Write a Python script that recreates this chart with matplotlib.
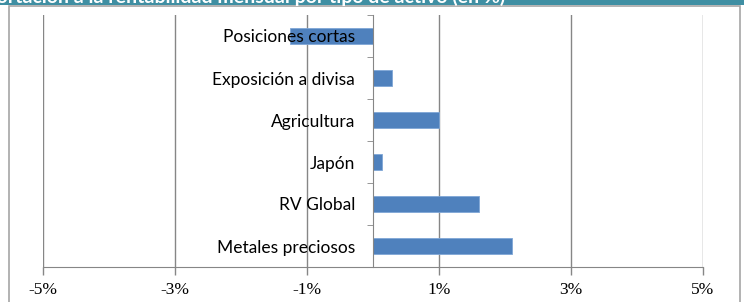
import matplotlib
matplotlib.use("Agg")
import matplotlib.pyplot as plt
from matplotlib.patches import Rectangle
from matplotlib.ticker import FixedLocator, FuncFormatter
import numpy as np

categories = ["Metales preciosos", "RV Global", "Japón", "Agricultura",
              "Exposición a divisa", "Posiciones cortas"]
values = [2.1, 1.6, 0.14, 1.0, 0.29, -1.26]
xticks = [-5, -3, -1, 1, 3, 5]
title = "Aportación a la rentabilidad mensual por tipo de activo (en %)"

W, H = 744, 302
fig = plt.figure(figsize=(W / 100, H / 100), dpi=100)

# header band and outer frame
fig.patches.append(Rectangle((0, 1 - 5 / H), 1, 5 / H, transform=fig.transFigure,
                             facecolor="#3F8FA3", edgecolor="none", zorder=0))
fig.patches.append(Rectangle((9 / W, -0.1), (740 - 9) / W, 1.1 - 6 / H,
                             transform=fig.transFigure, facecolor="none",
                             edgecolor="#A6A6A6", linewidth=1.2, zorder=0))
fig.text(505 / W, 1 - 2.5 / H, title, color="white", fontsize=14, fontweight="bold",
         ha="right", va="baseline", family="Lato")

ax = fig.add_axes([43 / W, (H - 267) / H, (703 - 43) / W, (267 - 15) / H])
y = np.arange(len(categories))
ax.barh(y, values, height=0.4, color="#4F81BD", edgecolor="#7FA6D6",
        linewidth=0.6, zorder=3)
ax.set_xlim(-5, 5)
ax.set_ylim(-0.5, len(categories) - 0.5)

ax.xaxis.set_major_locator(FixedLocator(xticks))
ax.xaxis.set_major_formatter(FuncFormatter(lambda v, p: f"{v:.0f}%"))
ax.grid(axis="x", color="#868686", linewidth=1.0, zorder=0)
ax.tick_params(axis="x", direction="out", length=6, width=1, color="#868686",
               pad=5, labelsize=12.5)
for lab in ax.get_xticklabels():
    lab.set_family("Liberation Serif")

# y axis at zero
ax.spines["left"].set_position(("data", 0))
ax.spines["left"].set_color("#868686")
ax.spines["left"].set_zorder(4)
ax.spines["bottom"].set_color("#868686")
ax.spines["top"].set_visible(False)
ax.spines["right"].set_visible(False)
ax.set_yticks(y)
ax.set_yticklabels(categories)
ax.yaxis.set_minor_locator(FixedLocator(np.arange(len(categories) + 1) - 0.5))
ax.tick_params(axis="y", which="major", length=0, pad=13, labelsize=12.5)
ax.tick_params(axis="y", which="minor", length=4, direction="out", color="#868686")
for lab in ax.get_yticklabels():
    lab.set_family("Lato")
ax.yaxis.set_zorder(5)

fig.savefig("out.png", dpi=100)
